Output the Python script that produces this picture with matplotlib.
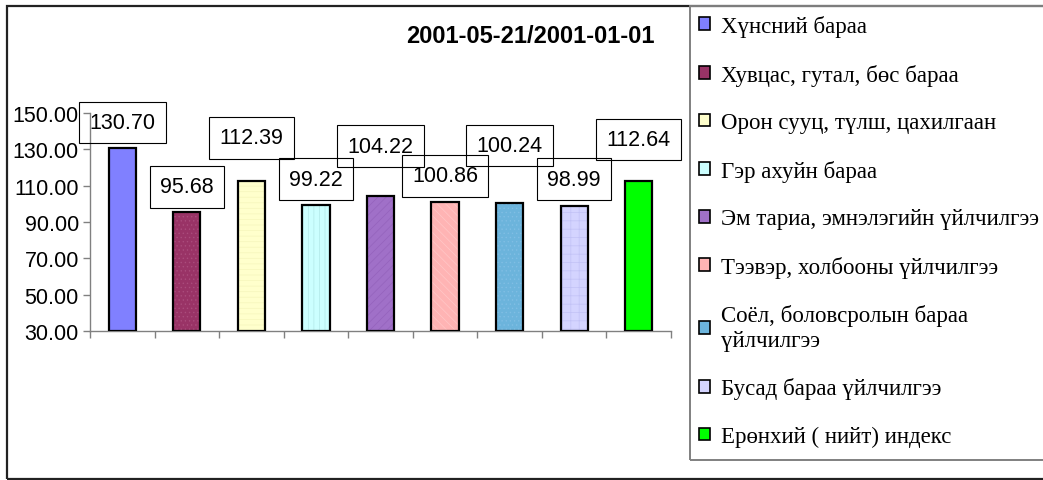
import numpy as np
import matplotlib.pyplot as plt
from matplotlib.patches import Patch, Rectangle

# data
categories = [
    "Хүнсний бараа",
    "Хувцас, гутал, бөс бараа",
    "Орон сууц, түлш, цахилгаан",
    "Гэр ахуйн бараа",
    "Эм тариа, эмнэлэгийн үйлчилгээ",
    "Тээвэр, холбооны үйлчилгээ",
    "Соёл, боловсролын бараа\nүйлчилгээ",
    "Бусад бараа үйлчилгээ",
    "Ерөнхий ( нийт) индекс",
]
values = [130.70, 95.68, 112.39, 99.22, 104.22, 100.86, 100.24, 98.99, 112.64]
y_ticks = [30, 50, 70, 90, 110, 130, 150]
title = "2001-05-21/2001-01-01"

# styles
colors = ["#8080FF", "#993366", "#FFFFCC", "#CCFFFF", "#A070C8",
          "#FFB4B4", "#6CB4DC", "#D4D4FF", "#00FF00"]
hatch_colors = ["#8080FF", "#AA4C7C", "#F6F6BC", "#B2E8E8", "#9462BC",
                "#FFC8C8", "#80BEE4", "#C2C2F6", "#00FF00"]
hatches = [None, "....", "---", "|||", "////", "\\\\\\\\", "....", "++", None]
label_offsets = [25.5, 25, 43.5, 26, 50, 26.5, 58, 26.5, 41.5]  # px above bar top

plt.rcParams["hatch.linewidth"] = 0.5
W, H = 1043, 481
fig = plt.figure(figsize=(W / 100, H / 100), dpi=100)
ax = fig.add_axes([90 / W, 1 - 332 / H, (671 - 90) / W, (332 - 114) / H])

base = y_ticks[0]
heights = np.array(values) - base
for i, h in enumerate(heights):
    ax.bar(i, h, bottom=base, width=0.42, color=colors[i], hatch=hatches[i],
           edgecolor=hatch_colors[i], linewidth=0, zorder=2)
    ax.bar(i, h, bottom=base, width=0.42, fill=False, edgecolor="black",
           linewidth=1.6, zorder=3)
    ax.annotate(f"{values[i]:.2f}", (i, values[i]), xytext=(0, label_offsets[i]),
                textcoords="offset pixels", ha="center", va="center",
                fontsize=15.5, family="Liberation Sans", zorder=4,
                bbox=dict(boxstyle="square,pad=0.48", fc="none", ec="black", lw=0.8),
                annotation_clip=False)

ax.set_xlim(-0.5, len(values) - 0.5)
ax.set_ylim(base, y_ticks[-1])
ax.set_yticks(y_ticks)
ax.set_yticklabels([f"{t:.2f}" for t in y_ticks], family="Liberation Sans", fontsize=15.5)
ax.set_xticks(np.arange(-0.5, len(values)))
ax.set_xticklabels([])
ax.tick_params(axis="both", length=5, width=1, color="#808080", direction="out", pad=3)
for side in ["top", "right"]:
    ax.spines[side].set_visible(False)
for side in ["left", "bottom"]:
    ax.spines[side].set_color("#808080")
    ax.spines[side].set_linewidth(1)

fig.text(530 / W, 1 - 37 / H, title, ha="center", va="center", fontsize=17,
         weight="bold", family="Liberation Sans")

# outer frame and legend frame
fig.patches.append(Rectangle((7 / W, 1 - 480 / H), 1.2, (480 - 7) / H, transform=fig.transFigure,
                             fill=False, ec="#222222", lw=1.6))
fig.patches.append(Rectangle((690 / W, 1 - 461 / H), 1.2, (461 - 7) / H, transform=fig.transFigure,
                             fill=False, ec="#808080", lw=1.4))

handles = [Patch(facecolor=c, edgecolor="black", linewidth=1.2) for c in colors]
fig.legend(handles, categories, loc="upper left", bbox_to_anchor=(699 / W, 1 - 16 / H),
           frameon=False, borderaxespad=0, borderpad=0, handlelength=0.48, handleheight=0.48,
           handletextpad=0.48, labelspacing=1.16,
           prop={"family": "Liberation Serif", "size": 16.5})

fig.savefig("out.png", dpi=100)
